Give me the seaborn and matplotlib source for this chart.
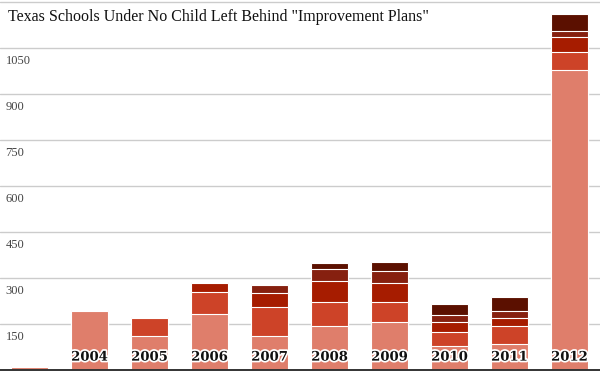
import matplotlib
matplotlib.use("Agg")
import matplotlib.pyplot as plt
import matplotlib.patheffects as pe
import matplotlib.transforms as mtransforms
import numpy as np
import pandas as pd
import seaborn as sns

# ---- data ----
years = ["2003", "2004", "2005", "2006", "2007", "2008", "2009", "2010", "2011", "2012"]
year_labels = ["", "2004", "2005", "2006", "2007", "2008", "2009", "2010", "2011", "2012"]
stage1 = [8, 193, 110, 183, 110, 142, 156, 77, 85, 977]
stage2 = [3, 3, 60, 70, 95, 80, 66, 47, 59, 60]
stage3 = [2, 0, 3, 31, 46, 68, 60, 30, 23, 47]
stage4 = [0, 0, 0, 2, 24, 37, 39, 24, 23, 19]
stage5 = [0, 0, 0, 0, 3, 22, 30, 36, 47, 57]
ytick_values = [150, 300, 450, 600, 750, 900, 1050, 1200]
ytick_labels = ["150", "300", "450", "600", "750", "900", "1050", ""]
title = 'Texas Schools Under No Child Left Behind "Improvement Plans"'

colors = ["#DF7E6B", "#CD4328", "#A61C00", "#86200F", "#5B1000"]

df = pd.DataFrame({"year": years, "s1": stage1, "s2": stage2, "s3": stage3,
                   "s4": stage4, "s5": stage5})
layers = ["s1", "s2", "s3", "s4", "s5"]
cum = df[layers].cumsum(axis=1)

sns.set_style("white")
fig = plt.figure(figsize=(6.0, 3.71), dpi=100)
ax = fig.add_axes([0, 0, 1, 1])

# draw cumulative totals from the top layer down so lower layers overlay
for i in range(len(layers) - 1, -1, -1):
    sns.barplot(x=df["year"], y=cum[layers[i]], color=colors[i], ax=ax,
                width=0.62, edgecolor="white", linewidth=0.8, saturation=1,
                zorder=2)

ax.set_xlim(-0.492, 9.508)
ax.set_ylim(-4.2, 1205.4)
ax.set_yticks(ytick_values)
ax.set_yticklabels([])
ax.set_xticks([])
ax.set_xlabel("")
ax.set_ylabel("")
ax.grid(axis="y", color="#cccccc", linewidth=1.0, zorder=0)
ax.set_axisbelow(True)
for s in ax.spines.values():
    s.set_visible(False)
ax.axhline(0, color="#333333", linewidth=1.4, zorder=3)

# y labels just below each gridline, inside the plot
trans = mtransforms.blended_transform_factory(ax.transAxes, ax.transData)
for v, lab in zip(ytick_values, ytick_labels):
    if lab:
        ax.annotate(lab, xy=(0, v), xycoords=trans, xytext=(4, -5),
                    textcoords="offset points", ha="left", va="top",
                    fontsize=9, color="#444444", family="Liberation Serif")

# year labels at the bottom of each bar
for i, lab in enumerate(year_labels):
    if lab:
        ax.text(i, 41, lab, ha="center", va="center", fontsize=9.5,
                fontweight="bold", family="DejaVu Serif", color="#111111",
                zorder=5,
                path_effects=[pe.withStroke(linewidth=2.5, foreground="white")])

fig.text(8 / 600, 1 - 21 / 371, title, ha="left", va="baseline",
         fontsize=11.5, family="Liberation Serif", color="#111111")

fig.savefig("out.png", dpi=100)
